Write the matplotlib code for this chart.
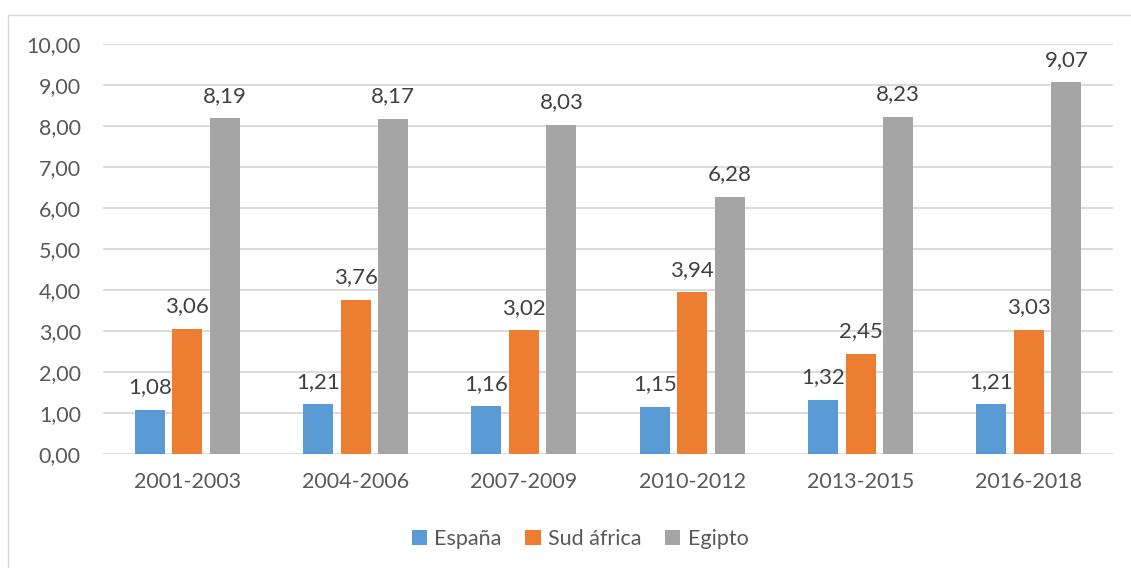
import numpy as np
import matplotlib.pyplot as plt
from matplotlib.patches import Rectangle

plt.rcParams['font.family'] = ['Lato', 'DejaVu Sans']

periods = ['2001-2003', '2004-2006', '2007-2009', '2010-2012', '2013-2015', '2016-2018']
espana = [1.08, 1.21, 1.16, 1.15, 1.32, 1.21]
sud_africa = [3.06, 3.76, 3.02, 3.94, 2.45, 3.03]
egipto = [8.19, 8.17, 8.03, 6.28, 8.23, 9.07]
y_ticks = [0, 1, 2, 3, 4, 5, 6, 7, 8, 9, 10]

series = [('España', espana, '#5B9BD5'),
          ('Sud áfrica', sud_africa, '#ED7D31'),
          ('Egipto', egipto, '#A5A5A5')]

txt = '#595959'

fig = plt.figure(figsize=(11.31, 5.68), dpi=100)
ax = fig.add_axes([0.0911, 0.2007, 0.8930, 0.7218])

x = np.arange(len(periods))
step = 0.223
width = 0.178
for k, (name, vals, col) in enumerate(series):
    pos = x + (k - 1) * step
    bars = ax.bar(pos, vals, width, color=col, label=name, zorder=3)
    for b, v in zip(bars, vals):
        ax.annotate(f'{v:.2f}'.replace('.', ','), (b.get_x() + b.get_width() / 2, v),
                    xytext=(0, 9), textcoords='offset points',
                    ha='center', va='bottom', fontsize=16, color='#404040')

ax.set_xlim(-0.5, len(periods) - 0.5)
ax.set_ylim(0, 10)
ax.set_yticks(y_ticks)
ax.set_yticklabels([f'{t:.2f}'.replace('.', ',') for t in y_ticks])
ax.set_xticks(x)
ax.set_xticklabels(periods)
ax.tick_params(axis='both', length=0, labelsize=15.5, labelcolor=txt)
ax.tick_params(axis='y', pad=16)
ax.tick_params(axis='x', pad=13)
ax.yaxis.grid(True, color='#D9D9D9', linewidth=1.3, zorder=0)
for s in ax.spines.values():
    s.set_visible(False)

fig.legend(loc='center', bbox_to_anchor=(0.513, 0.051), ncol=3, frameon=False,
           handlelength=0.7, handleheight=0.7, handletextpad=0.35,
           columnspacing=1.1, fontsize=15.5, labelcolor=txt)

fig.patches.append(Rectangle((8 / 1131, -0.05), 1.1, 1 - 15 / 568 + 0.05,
                             transform=fig.transFigure, fill=False,
                             edgecolor='#D9D9D9', linewidth=1))

fig.savefig('out.png', dpi=100)
